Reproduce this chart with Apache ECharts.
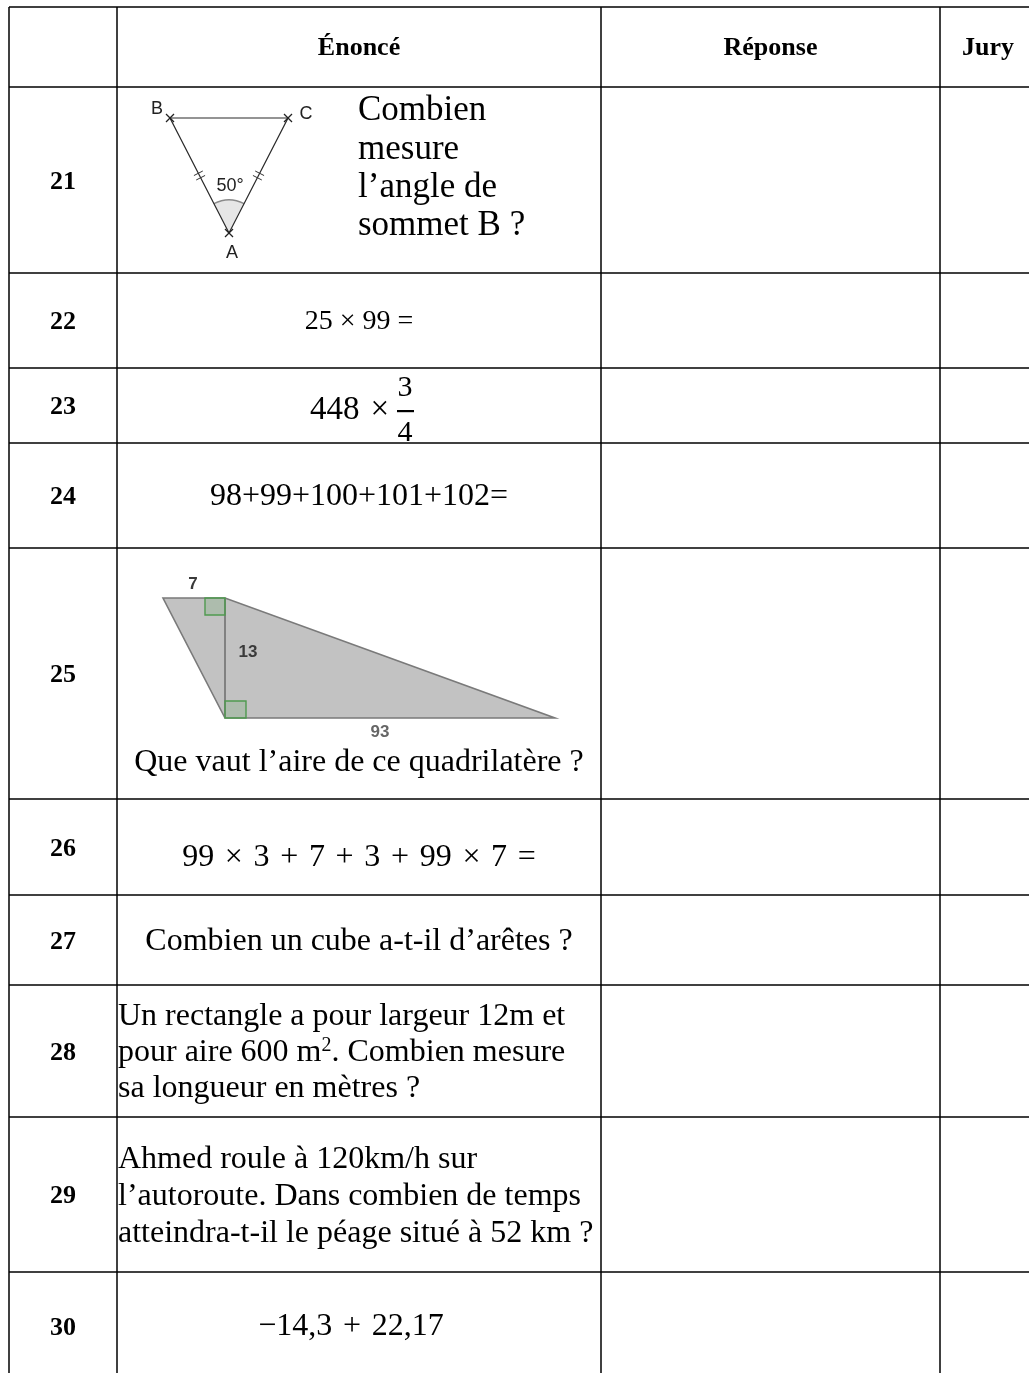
<!DOCTYPE html>
<html><head><meta charset="utf-8">
<script src="https://cdn.jsdelivr.net/npm/echarts@6/dist/echarts.min.js"></script>
<style>html,body{margin:0;padding:0;background:#fff}#main{width:1029px;height:1373px}</style>
</head><body><div id="main"></div>
<script>
// ---------------- data ----------------
const columnHeaders = ['', 'Énoncé', 'Réponse', 'Jury'];
const questionNumbers = ['21', '22', '23', '24', '25', '26', '27', '28', '29', '30'];
const questionTexts = [
  ['Combien', 'mesure', 'l’angle de', 'sommet B ?'],
  ['25 × 99 ='],
  ['448 ×', '3', '4'],
  ['98+99+100+101+102='],
  ['Que vaut l’aire de ce quadrilatère ?'],
  ['99 × 3 + 7 + 3 + 99 × 7 ='],
  ['Combien un cube a-t-il d’arêtes ?'],
  ['Un rectangle a pour largeur 12m et', 'pour aire 600 m{sup|2}. Combien mesure', 'sa longueur en mètres ?'],
  ['Ahmed roule à 120km/h sur', 'l’autoroute. Dans combien de temps', 'atteindra-t-il le péage situé à 52 km ?'],
  ['−14,3 + 22,17']
];
const triangleVertexLabels = ['A', 'B', 'C'];
const triangleAngleLabel = '50°';
const trapezoidSideLabels = ['7', '13', '93'];

// ---------------- layout (pixel-like units on hidden value axes) ----------------
const W = 1029, H = 1373;
const COL_EDGES = [9, 117, 601, 940, 1036];
const ROW_EDGES = [7, 87, 273, 368, 443, 548, 799, 895, 985, 1117, 1272, 1381];
const SERIF = '"Liberation Serif", "Times New Roman", serif';
const SANS = '"Liberation Sans", Arial, sans-serif';
const ROW_LAYOUT = [
  {kind: 'triangle', x: 358, ys: [111, 150, 188, 226], size: 35},
  {kind: 'center', y: 322, size: 28},
  {kind: 'fraction', y: 410, size: 33},
  {kind: 'center', y: 497, size: 32},
  {kind: 'trapezoid', y: 763, size: 32},
  {kind: 'center', y: 858, size: 32, math: true},
  {kind: 'center', y: 942, size: 32},
  {kind: 'left', x: 118, ys: [1017, 1053, 1089], size: 32},
  {kind: 'left', x: 118, ys: [1160, 1197, 1234], size: 32},
  {kind: 'center', y: 1327, size: 32, math: true, dx: -8}
];

function mk(api) {
  const c = (x, y) => api.coord([x, y]);
  return {
    line(x1, y1, x2, y2, style) {
      const a = c(x1, y1), b = c(x2, y2);
      return {type: 'line', shape: {x1: a[0], y1: a[1], x2: b[0], y2: b[1]}, style: Object.assign({stroke: '#000', lineWidth: 1.5}, style || {})};
    },
    text(x, y, str, style) {
      const p = c(x, y);
      return {type: 'text', x: p[0], y: p[1], style: Object.assign({text: str, fill: '#000', align: 'center', verticalAlign: 'middle', fontFamily: SERIF, fontSize: 32}, style || {})};
    },
    poly(pts, style) {
      return {type: 'polygon', shape: {points: pts.map(p => c(p[0], p[1]))}, style: style};
    },
    rect(x1, y1, x2, y2, style) {
      const a = c(x1, y1), b = c(x2, y2);
      return {type: 'rect', shape: {x: a[0], y: a[1], width: b[0] - a[0], height: b[1] - a[1]}, style: style};
    },
    c: c
  };
}

function triangleFigure(g) {
  const A = [229, 233], B = [170, 118], C = [288, 118];
  const out = [];
  const pa = g.c(A[0], A[1]);
  const r = Math.abs(g.c(0, 33)[1] - g.c(0, 0)[1]);
  const angB = Math.atan2(B[1] - A[1], B[0] - A[0]);
  const angC = Math.atan2(C[1] - A[1], C[0] - A[0]);
  out.push({type: 'sector', shape: {cx: pa[0], cy: pa[1], r0: 0, r: r, startAngle: angB, endAngle: angC, clockwise: true}, style: {fill: '#e6e6e6'}});
  out.push({type: 'arc', shape: {cx: pa[0], cy: pa[1], r: r, startAngle: angB, endAngle: angC, clockwise: true}, style: {stroke: '#8a8a8a', lineWidth: 1.3, fill: null}});
  out.push(g.poly([A, B, C], {fill: null, stroke: '#2a2a2a', lineWidth: 1.2}));
  [A, B, C].forEach(p => {
    out.push(g.line(p[0] - 4, p[1] - 4, p[0] + 4, p[1] + 4, {stroke: '#222', lineWidth: 1.3}));
    out.push(g.line(p[0] - 4, p[1] + 4, p[0] + 4, p[1] - 4, {stroke: '#222', lineWidth: 1.3}));
  });
  // equal-length ticks
  [[A, B], [A, C]].forEach(([P, Q]) => {
    const dx = Q[0] - P[0], dy = Q[1] - P[1], L = Math.hypot(dx, dy);
    const ux = dx / L, uy = dy / L, nx = -uy, ny = ux;
    const mx = (P[0] + Q[0]) / 2, my = (P[1] + Q[1]) / 2;
    [-2.5, 2.5].forEach(o => {
      const cx = mx + ux * o, cy = my + uy * o;
      out.push(g.line(cx - nx * 5, cy - ny * 5, cx + nx * 5, cy + ny * 5, {stroke: '#333', lineWidth: 1}));
    });
  });
  const lab = {fontFamily: SANS, fontSize: 18, fill: '#222'};
  out.push(g.text(232, 253, triangleVertexLabels[0], lab));
  out.push(g.text(157, 109, triangleVertexLabels[1], lab));
  out.push(g.text(306, 114, triangleVertexLabels[2], lab));
  out.push(g.text(230, 186, triangleAngleLabel, lab));
  return out;
}

function trapezoidFigure(g) {
  const out = [];
  out.push(g.poly([[163, 598], [225, 598], [555, 718], [225, 718]], {fill: '#c2c2c2', stroke: '#7a7a7a', lineWidth: 1.6}));
  out.push(g.line(225, 598, 225, 718, {stroke: '#7a7a7a', lineWidth: 1.8}));
  const sq = {fill: 'rgba(110,170,110,0.25)', stroke: '#4f9a4f', lineWidth: 1.4};
  out.push(g.rect(205, 598, 225, 615, sq));
  out.push(g.rect(225, 701, 246, 718, sq));
  const lab = {fontFamily: SANS, fontSize: 17, fontWeight: 'bold', fill: '#3a3a3a'};
  out.push(g.text(193, 584, trapezoidSideLabels[0], lab));
  out.push(g.text(248, 652, trapezoidSideLabels[1], lab));
  out.push(g.text(380, 732, trapezoidSideLabels[2], Object.assign({}, lab, {fill: '#666'})));
  return out;
}

function renderRow(params, api) {
  const i = api.value(0);
  const g = mk(api);
  const top = ROW_EDGES[i], bot = ROW_EDGES[i + 1];
  const children = [];
  children.push(g.line(COL_EDGES[0], top, COL_EDGES[COL_EDGES.length - 1], top));
  COL_EDGES.forEach(x => children.push(g.line(x, top, x, bot)));
  if (i === ROW_EDGES.length - 2) children.push(g.line(COL_EDGES[0], bot, COL_EDGES[COL_EDGES.length - 1], bot));
  const midY = (top + bot) / 2;
  const bold = {fontWeight: 'bold', fontSize: 26};
  if (i === 0) {
    columnHeaders.forEach((h, k) => {
      if (h) children.push(g.text((COL_EDGES[k] + COL_EDGES[k + 1]) / 2, 48, h, bold));
    });
  } else {
    const q = i - 1;
    children.push(g.text((COL_EDGES[0] + COL_EDGES[1]) / 2, midY + 2, questionNumbers[q], bold));
    const L = ROW_LAYOUT[q], lines = questionTexts[q];
    const cx = (COL_EDGES[1] + COL_EDGES[2]) / 2 + (L.dx || 0);
    if (L.kind === 'triangle') {
      children.push(...triangleFigure(g));
      lines.forEach((t, k) => children.push(g.text(L.x, L.ys[k], t, {align: 'left', fontSize: L.size})));
    } else if (L.kind === 'center') {
      const t = L.math ? lines[0].replace(/ /g, '\u2004') : lines[0];
      children.push(g.text(cx, L.y, t, {fontSize: L.size}));
    } else if (L.kind === 'fraction') {
      children.push(g.text(389, L.y, lines[0].replace(/ /g, '\u2004'), {align: 'right', fontSize: L.size}));
      children.push(g.text(405, L.y - 22, lines[1], {fontSize: 30}));
      children.push(g.rect(397, L.y, 414, L.y + 2.2, {fill: '#000'}));
      children.push(g.text(405, L.y + 23, lines[2], {fontSize: 30}));
    } else if (L.kind === 'trapezoid') {
      children.push(...trapezoidFigure(g));
      children.push(g.text(cx, L.y, lines[0], {fontSize: L.size}));
    } else if (L.kind === 'left') {
      lines.forEach((t, k) => children.push(g.text(L.x, L.ys[k], t, {
        align: 'left', fontSize: L.size,
        rich: {sup: {fontSize: 20, fontFamily: SERIF, verticalAlign: 'top', lineHeight: 34, padding: [0, 0, 14, 0]}}
      })));
    }
  }
  return {type: 'group', children: children};
}

const chart = echarts.init(document.getElementById('main'), null, {renderer: 'canvas'});
chart.setOption({
  backgroundColor: '#fff',
  animation: false,
  grid: {left: 0, top: 0, right: 0, bottom: 0},
  xAxis: {type: 'value', min: 0, max: W, show: false},
  yAxis: {type: 'value', min: 0, max: H, inverse: true, show: false},
  series: [{
    type: 'custom',
    coordinateSystem: 'cartesian2d',
    silent: true,
    clip: false,
    encode: {x: 0, y: 1},
    data: [columnHeaders].concat(questionNumbers).map((_, i) => [i, i]),
    renderItem: renderRow
  }]
});
</script></body></html>
